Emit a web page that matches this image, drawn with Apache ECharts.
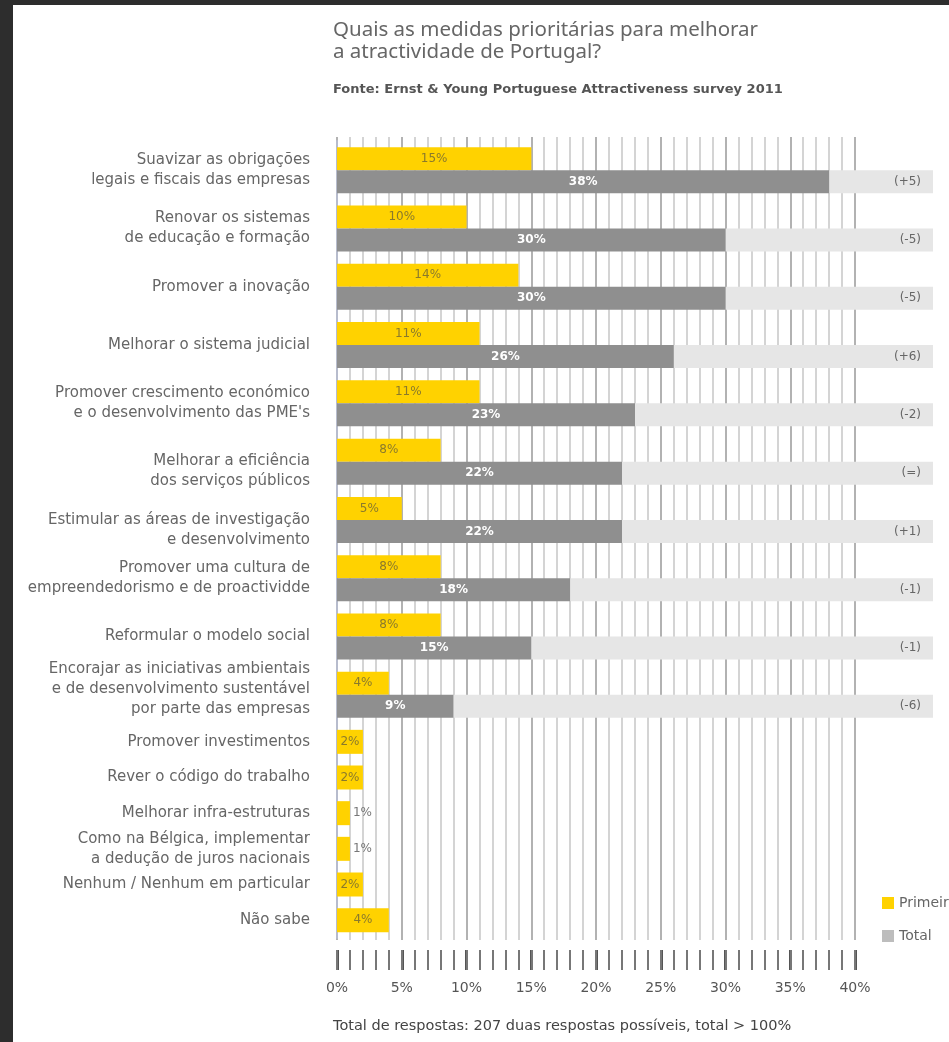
<!DOCTYPE html>
<html>
<head>
<meta charset="utf-8">
<script src="https://cdn.jsdelivr.net/npm/echarts@6/dist/echarts.min.js"></script>
<style>
html,body{margin:0;padding:0;background:#ffffff;}
#chart{width:949px;height:1042px;}
</style>
</head>
<body>
<div id="chart"></div>
<script>
// ---- data ----
const categoriesTop = [
  'Suavizar as obrigações\nlegais e fiscais das empresas',
  'Renovar os sistemas\nde educação e formação',
  'Promover a inovação',
  'Melhorar o sistema judicial',
  'Promover crescimento económico\ne o desenvolvimento das PME\'s',
  'Melhorar a eficiência\ndos serviços públicos',
  'Estimular as áreas de investigação\ne desenvolvimento',
  'Promover uma cultura de\nempreendedorismo e de proactividde',
  'Reformular o modelo social',
  'Encorajar as iniciativas ambientais\ne de desenvolvimento sustentável\npor parte das empresas'
];
const primeiraTop = [15, 10, 14, 11, 11, 8, 5, 8, 8, 4];
const totalTop = [38, 30, 30, 26, 23, 22, 22, 18, 15, 9];
const changesTop = ['(+5)', '(-5)', '(-5)', '(+6)', '(-2)', '(=)', '(+1)', '(-1)', '(-1)', '(-6)'];

const categoriesBottom = [
  'Promover investimentos',
  'Rever o código do trabalho',
  'Melhorar infra-estruturas',
  'Como na Bélgica, implementar\na dedução de juros nacionais',
  'Nenhum / Nenhum em particular',
  'Não sabe'
];
const primeiraBottom = [2, 2, 1, 1, 2, 4];

const legendNames = ['Primeira', 'Total'];
const titleText = 'Quais as medidas prioritárias para melhorar\na atractividade de Portugal?';
const sourceText = 'Fonte: Ernst & Young Portuguese Attractiveness survey 2011';
const footText = 'Total de respostas: 207 duas respostas possíveis, total > 100%';

// ---- style ----
const YELLOW = '#ffd200';
const GREY = '#8f8f8f';
const BG = '#e6e6e6';
const FONT = 'DejaVu Sans';
const BAR_MAX = 46;   // extent of the light background bars
const AXIS_MAX = 40;  // extent of the ruler axis
// vertical nudges (px) of some category labels, as in the original layout
const labelNudgeTop = {5: 9, 6: 10, 9: -6};

function nudgeFormatter(nudge) {
  return function (value, index) {
    const d = nudge[index];
    if (!d) return value;
    const sp = '{sp' + Math.abs(d) + '| }';
    return d > 0 ? sp + '\n' + value : value + '\n' + sp;
  };
}
function spacerRich(nudge) {
  const rich = {};
  Object.keys(nudge).forEach(k => {
    const h = 2 * Math.abs(nudge[k]);
    rich['sp' + Math.abs(nudge[k])] = {height: h, lineHeight: h, fontSize: 1};
  });
  return rich;
}

const chart = echarts.init(document.getElementById('chart'), null, {renderer: 'canvas'});

const yLabel = {
  color: '#666', fontSize: 15, fontFamily: FONT, lineHeight: 20, margin: 27, align: 'right'
};
const yellowLabel = {
  show: true, position: 'inside', formatter: '{c}%', color: '#8a7a2c',
  fontSize: 12, fontFamily: FONT
};

const option = {
  backgroundColor: '#ffffff',
  animation: false,
  textStyle: {fontFamily: FONT},
  title: [
    {text: titleText, left: 328, top: 14,
     textStyle: {fontSize: 20.5, fontWeight: 'normal', color: '#666', lineHeight: 22, fontFamily: 'Noto Sans'}},
    {text: sourceText, left: 328, top: 78,
     textStyle: {fontSize: 13, fontWeight: 'bold', color: '#555', fontFamily: FONT}},
    {text: footText, left: 328, top: 1014,
     textStyle: {fontSize: 14.5, fontWeight: 'normal', color: '#444', fontFamily: FONT}}
  ],
  graphic: [
    {type: 'rect', left: 0, top: 0, shape: {width: 13, height: 1042}, style: {fill: '#2d2d2d'}, z: 100},
    {type: 'rect', left: 0, top: 0, shape: {width: 949, height: 5}, style: {fill: '#2d2d2d'}, z: 100}
  ],
  legend: {
    orient: 'vertical', left: 877, top: 891, itemWidth: 12, itemHeight: 12, itemGap: 19,
    icon: 'rect',
    textStyle: {color: '#666', fontSize: 14, fontFamily: FONT},
    data: [
      {name: legendNames[0], itemStyle: {color: YELLOW}},
      {name: legendNames[1], itemStyle: {color: '#bdbdbd'}}
    ]
  },
  grid: [
    {left: 337, top: 141, width: 596, height: 583},
    {left: 337, top: 724, width: 596, height: 214},
    {left: 337, top: 137, width: 518, height: 803}
  ],
  xAxis: [
    {gridIndex: 0, type: 'value', min: 0, max: BAR_MAX, show: false},
    {gridIndex: 1, type: 'value', min: 0, max: BAR_MAX, show: false},
    // thin 1% grid lines
    {gridIndex: 2, type: 'value', position: 'bottom', min: 0, max: AXIS_MAX, interval: 1,
     axisLine: {show: false}, axisTick: {show: false}, axisLabel: {show: false},
     splitLine: {show: true, lineStyle: {color: '#d4d4d4', width: 2}}},
    // 5% grid lines, thick ruler ticks, labels
    {gridIndex: 2, type: 'value', position: 'bottom', min: 0, max: AXIS_MAX, interval: 5, offset: 10,
     axisLine: {show: false},
     axisTick: {show: true, length: 20, lineStyle: {color: '#555', width: 3}},
     axisLabel: {show: true, formatter: '{value}%', color: '#555', fontSize: 14, fontFamily: FONT, margin: 31},
     splitLine: {show: true, lineStyle: {color: '#b2b2b2', width: 2}}},
    // thin 1% ruler ticks
    {gridIndex: 2, type: 'value', position: 'bottom', min: 0, max: AXIS_MAX, interval: 1, offset: 10,
     axisLine: {show: false},
     axisTick: {show: true, length: 20, lineStyle: {color: '#777', width: 2}},
     axisLabel: {show: false}, splitLine: {show: false}}
  ],
  yAxis: [
    {gridIndex: 0, type: 'category', inverse: true, data: categoriesTop,
     axisLine: {show: true, lineStyle: {color: '#b7bccd', width: 2}}, axisTick: {show: false},
     axisLabel: Object.assign({}, yLabel, {formatter: nudgeFormatter(labelNudgeTop), rich: spacerRich(labelNudgeTop)})},
    {gridIndex: 1, type: 'category', inverse: true, data: categoriesBottom,
     axisLine: {show: true, lineStyle: {color: '#b7bccd', width: 2}}, axisTick: {show: false},
     axisLabel: yLabel},
    {gridIndex: 2, type: 'value', show: false}
  ],
  series: [
    {type: 'bar', name: legendNames[0], xAxisIndex: 0, yAxisIndex: 0, data: primeiraTop,
     barWidth: 23, barGap: '0%', itemStyle: {color: YELLOW}, label: yellowLabel, z: 3},
    {type: 'bar', name: legendNames[1], xAxisIndex: 0, yAxisIndex: 0, stack: 'total', data: totalTop,
     barWidth: 23, itemStyle: {color: GREY},
     label: {show: true, position: 'inside', formatter: '{c}%', color: '#fff', fontSize: 12,
             fontWeight: 'bold', fontFamily: FONT}, z: 3},
    {type: 'bar', name: 'resto', xAxisIndex: 0, yAxisIndex: 0, stack: 'total',
     data: totalTop.map(t => BAR_MAX - t),
     barWidth: 23, itemStyle: {color: BG}, silent: true,
     label: {show: true, position: 'insideRight', distance: 12,
             formatter: p => changesTop[p.dataIndex], color: '#666', fontSize: 12, fontFamily: FONT}, z: 3},
    {type: 'bar', name: legendNames[0], xAxisIndex: 1, yAxisIndex: 1,
     data: primeiraBottom.map(v => v < 2 ? {value: v, label: {position: 'right', distance: 3, color: '#777'}} : v),
     barWidth: 24, itemStyle: {color: YELLOW}, label: yellowLabel, z: 3}
  ]
};
chart.setOption(option);
</script>
</body>
</html>
